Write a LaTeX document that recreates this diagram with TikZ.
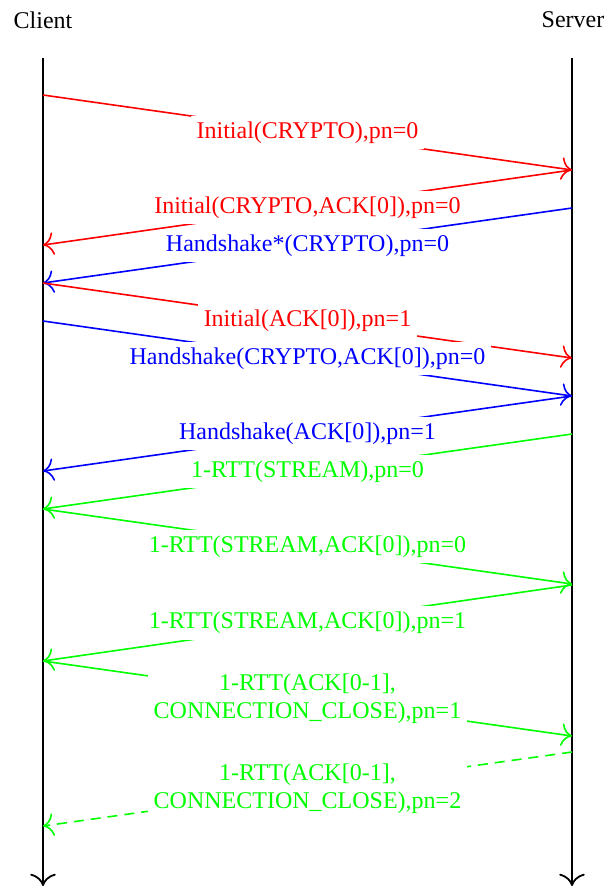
\documentclass[tikz,border=0pt]{standalone}
\usepackage{fontspec}
\setmainfont{Liberation Serif}
\usetikzlibrary{arrows.meta}

\begin{document}
\begin{tikzpicture}[x=0.5pt, y=-0.5pt, font=\fontsize{12}{14}\selectfont,
		lifeline/.style={line width=0.9pt, -{To[scale=1.7]}},
		msg/.style={line width=0.8pt, -{To[scale=1.6]}},
		lbl/.style={fill=white, align=center, inner sep=3pt, pos=0.5}]
		\useasboundingbox (0,0) rectangle (604,888);

		\node (client) at (43,20) {Client};
		\node (server) at (573,20) {Server};
		\coordinate (C) at (43,58);
		\coordinate (S) at (572,58);
		\coordinate (Cend) at (43,886);
		\coordinate (Send) at (572,886);
		\draw [lifeline] (C) -- (Cend);
		\draw [lifeline] (S) -- (Send);

		% Initial
		\draw [msg, red] (C |- 0,95) -- (S |- 0,170) node[lbl] {Initial(CRYPTO),pn=0};
		\draw [msg, red] (S |- 0,170) -- (C |- 0,245) node[lbl] {Initial(CRYPTO,ACK[0]),pn=0};
		\draw [msg, blue] (S |- 0,208) -- (C |- 0,283) node[lbl] {Handshake*(CRYPTO),pn=0};
		\draw [msg, red] (C |- 0,283) -- (S |- 0,358) node[lbl] {Initial(ACK[0]),pn=1};

		% Handshake
		\draw [msg, blue] (C |- 0,321) -- (S |- 0,396) node[lbl] {Handshake(CRYPTO,ACK[0]),pn=0};
		\draw [msg, blue] (S |- 0,396) -- (C |- 0,471) node[lbl] {Handshake(ACK[0]),pn=1};

		% 1-RTT
		\draw [msg, green] (S |- 0,434) -- (C |- 0,509) node[lbl] {1-RTT(STREAM),pn=0};
		\draw [msg, green] (C |- 0,509) -- (S |- 0,584) node[lbl] {1-RTT(STREAM,ACK[0]),pn=0};
		\draw [msg, green] (S |- 0,585) -- (C |- 0,661) node[lbl] {1-RTT(STREAM,ACK[0]),pn=1};
		\draw [msg, green] (C |- 0,661) -- (S |- 0,736) node[lbl] {1-RTT(ACK[0-1],\\CONNECTION\_CLOSE),pn=1};
		\draw [msg, green, dash pattern=on 5pt off 3.5pt] (S |- 0,752) -- (C |- 0,826) node[lbl] {1-RTT(ACK[0-1],\\CONNECTION\_CLOSE),pn=2};
\end{tikzpicture}
\end{document}
